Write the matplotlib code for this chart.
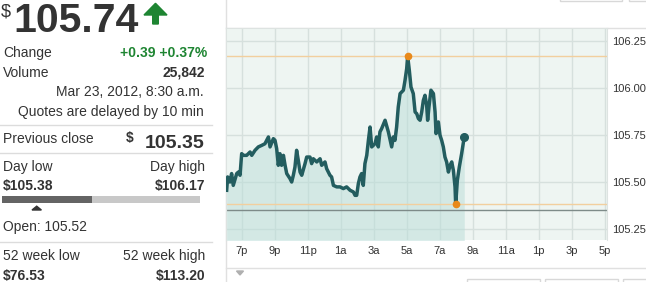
import matplotlib.pyplot as plt
from matplotlib.patches import Polygon, Rectangle

plt.rcParams['font.family'] = ['Liberation Sans', 'DejaVu Sans']

W, H = 646, 282

# intraday prices, time in hours from midnight Mar 22 (19 = 7p, 32.5 = 8:30a)
hours = [18.09, 18.15, 18.29, 18.39, 18.49, 18.70, 18.80, 18.90, 19.00, 19.10,
         19.30, 19.51, 19.61, 19.81, 20.01, 20.21, 20.41, 20.62, 20.72, 20.92,
         21.02, 21.12, 21.22, 21.32, 21.42, 21.53, 21.63, 21.73, 21.93, 22.03,
         22.13, 22.23, 22.33, 22.43, 22.54, 22.64, 22.84, 22.94, 23.14, 23.24,
         23.34, 23.55, 23.75, 23.85, 24.05, 24.15, 24.35, 24.45, 24.56, 24.76,
         24.96, 25.16, 25.36, 25.57, 25.77, 25.87, 25.97, 26.07, 26.17, 26.27,
         26.37, 26.47, 26.58, 26.68, 26.78, 26.88, 27.08, 27.18, 27.28, 27.38,
         27.48, 27.69, 27.89, 28.09, 28.19, 28.29, 28.39, 28.49, 28.60, 28.80,
         28.90, 29.00, 29.06, 29.16, 29.26, 29.40, 29.51, 29.61, 29.71, 29.81,
         29.91, 30.01, 30.11, 30.21, 30.27, 30.35, 30.47, 30.62, 30.72, 30.78,
         30.92, 31.02, 31.12, 31.22, 31.32, 31.42, 31.53, 31.63, 31.73, 31.83,
         31.93, 31.97, 32.07, 32.19, 32.33, 32.49]
prices = [105.455, 105.526, 105.499, 105.544, 105.481, 105.544, 105.552, 105.535, 105.650, 105.641,
          105.641, 105.659, 105.641, 105.668, 105.686, 105.694, 105.703, 105.739, 105.686, 105.730,
          105.721, 105.677, 105.588, 105.650, 105.588, 105.641, 105.588, 105.544, 105.517, 105.499,
          105.535, 105.579, 105.668, 105.615, 105.552, 105.535, 105.597, 105.632, 105.632, 105.597,
          105.623, 105.606, 105.623, 105.588, 105.606, 105.570, 105.535, 105.526, 105.481, 105.473,
          105.473, 105.464, 105.473, 105.455, 105.446, 105.428, 105.428, 105.490, 105.526, 105.544,
          105.481, 105.597, 105.641, 105.721, 105.792, 105.686, 105.703, 105.739, 105.686, 105.766,
          105.783, 105.828, 105.766, 105.686, 105.739, 105.721, 105.792, 105.899, 105.970, 105.988,
          106.041, 106.103, 106.170, 106.094, 106.005, 105.970, 105.872, 105.863, 105.837, 105.828,
          105.872, 105.934, 105.961, 105.908, 105.828, 105.899, 105.988, 105.970, 105.872, 105.757,
          105.819, 105.748, 105.721, 105.686, 105.632, 105.606, 105.552, 105.588, 105.606, 105.561,
          105.473, 105.380, 105.508, 105.579, 105.650, 105.740]

prev_close = 105.35
day_low, day_high = 105.38, 106.17
open_price = 105.52
week52_low, week52_high = 76.53, 113.20

tick_hours = [19, 21, 23, 25, 27, 29, 31, 33, 35, 37, 39, 41]
tick_labels = ['7p', '9p', '11p', '1a', '3a', '5a', '7a', '9a', '11a', '1p', '3p', '5p']
price_ticks = [105.25, 105.50, 105.75, 106.00, 106.25]

fig = plt.figure(figsize=(W / 100, H / 100), dpi=100)

# pixel overlay for the quote panel and frame lines
ov = fig.add_axes([0, 0, 1, 1])
ov.set_xlim(0, W)
ov.set_ylim(H, 0)
ov.axis('off')

txt = '#333333'
green = '#1e8532'

ov.text(1, 16, '$', fontsize=13, color=txt)
ov.text(13, 32, '%.2f' % prices[-1], fontsize=29.5, fontweight='bold', color=txt)
ov.add_patch(Polygon([(144, 15), (155.5, 3.3), (167, 15), (158.3, 15), (158.3, 24),
                      (152.7, 24), (152.7, 15)], closed=True, color=green))

ov.text(3, 57.3, 'Change', fontsize=10, color=txt)
ov.text(207, 57.3, '+0.39 +0.37%', fontsize=10, fontweight='bold', color=green, ha='right')
ov.text(3, 76.7, 'Volume', fontsize=10, color=txt)
ov.text(205, 76.7, '25,842', fontsize=10, fontweight='bold', color=txt, ha='right')
ov.text(204, 96, 'Mar 23, 2012, 8:30 a.m.', fontsize=10, color=txt, ha='right')
ov.text(204, 116, 'Quotes are delayed by 10 min', fontsize=10, color=txt, ha='right')

for y in [124.5, 153.3, 241.7]:
    ov.plot([0, 212], [y, y], color='#dcdcdc', lw=1)

ov.text(3, 143, 'Previous close', fontsize=10, color=txt)
ov.text(126, 142, '$', fontsize=10, fontweight='bold', color=txt)
ov.text(204, 148.3, '%.2f' % prev_close, fontsize=14, fontweight='bold', color=txt, ha='right')

ov.text(3, 170.7, 'Day low', fontsize=10, color=txt)
ov.text(205, 170.7, 'Day high', fontsize=10, color=txt, ha='right')
ov.text(3, 190, '$%.2f' % day_low, fontsize=10, fontweight='bold', color=txt)
ov.text(205, 190, '$%.2f' % day_high, fontsize=10, fontweight='bold', color=txt, ha='right')

ov.add_patch(Rectangle((2.3, 195.7), 89.4, 7, color='#646464', lw=0))
ov.add_patch(Rectangle((91.7, 195.7), 108.3, 7, color='#c8c8c8', lw=0))
ov.add_patch(Polygon([(32, 210), (36.7, 206.2), (41.4, 210)], closed=True, color='#333333'))

ov.text(3, 231.5, 'Open: %.2f' % open_price, fontsize=10, color=txt)
ov.text(3, 260, '52 week low', fontsize=10, color=txt)
ov.text(205, 260, '52 week high', fontsize=10, color=txt, ha='right')
ov.text(3, 280, '$%.2f' % week52_low, fontsize=10, fontweight='bold', color=txt)
ov.text(205, 280, '$%.2f' % week52_high, fontsize=10, fontweight='bold', color=txt, ha='right')

# frame around the chart
ov.plot([226, 226], [0, H], color='#e0e0e0', lw=1)
ov.plot([226, W], [28.3, 28.3], color='#e0e0e0', lw=1)
ov.plot([226, W], [268.3, 268.3], color='#e0e0e0', lw=1)
ov.add_patch(Polygon([(236.5, 271), (243.5, 271), (240, 275)], closed=True, color='#b0b0b0'))
for x0, x1 in [(466.7, 540), (545, 618), (623, 650)]:
    ov.add_patch(Rectangle((x0, 279), x1 - x0, 10, fill=False, ec='#d8d8d8', lw=1))
for x0, x1 in [(560, 621.7), (629, 650)]:
    ov.add_patch(Rectangle((x0, -10), x1 - x0, 11, fill=False, ec='#d8d8d8', lw=1))

# price chart
ax = fig.add_axes([226 / W, 1 - 240 / H, 381 / W, 211.7 / H])
ax.set_facecolor('#eef5f2')
ax.set_xlim(18.05, 41.14)
ax.set_ylim(105.19, 106.318)
ax.set_axisbelow(True)
ax.grid(color='#d6e0dd', lw=1)
ax.fill_between(hours, prices, 105.0, color='#b9ddd8', alpha=0.5, lw=0, zorder=1)
ax.axhline(day_high, color='#f2cf9e', lw=1, zorder=2)
ax.axhline(day_low, color='#f2cf9e', lw=1, zorder=2)
ax.axhline(prev_close, color='#7e8b89', lw=1, zorder=2)
ax.plot(hours, prices, color='#235d5f', lw=2.5, zorder=3)
ax.plot([hours[prices.index(day_high)], hours[prices.index(day_low)]], [day_high, day_low],
        'o', color='#e8891a', ms=4.5, zorder=4)
ax.plot(hours[-1], prices[-1], 'o', color='#235d5f', ms=5.5, zorder=4)

ax.set_xticks(tick_hours)
ax.set_xticklabels(tick_labels)
ax.set_yticks(price_ticks)
ax.set_yticklabels(['%.2f' % p for p in price_ticks])
ax.yaxis.tick_right()
ax.tick_params(axis='both', length=0, labelsize=8, colors='#333333')
ax.tick_params(axis='x', pad=4.5)
ax.tick_params(axis='y', pad=4)
for s in ax.spines.values():
    s.set_color('#dde3e1')
ax.spines['bottom'].set_visible(False)

fig.savefig('out.png', dpi=100)
